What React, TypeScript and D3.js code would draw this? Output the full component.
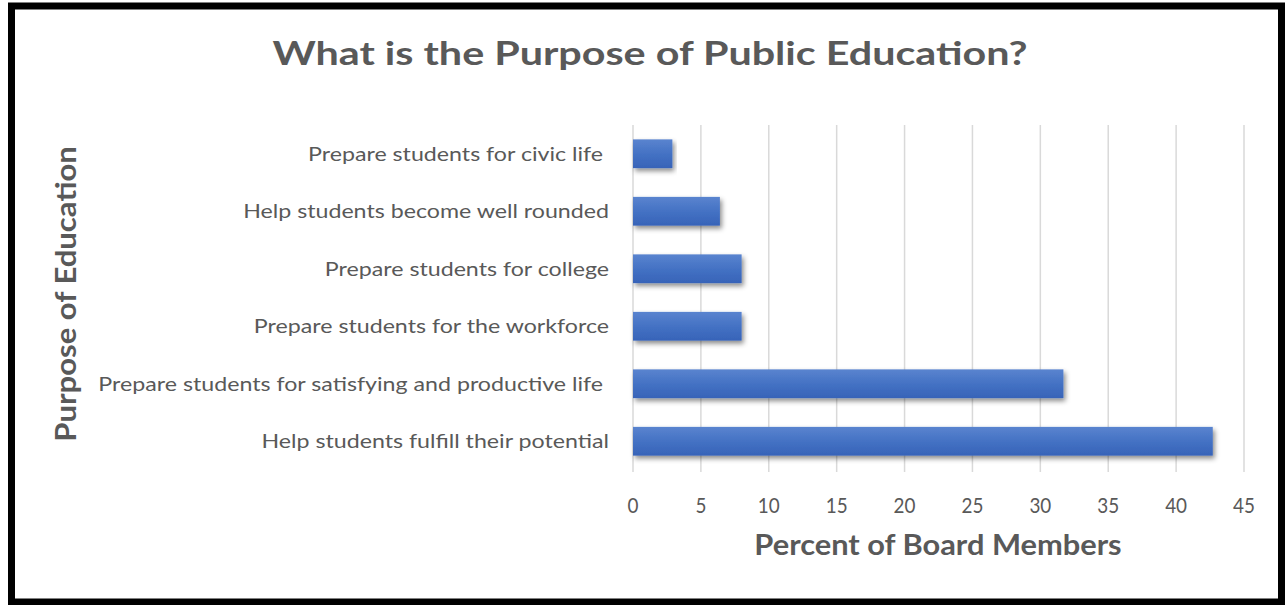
import React from "react";
import * as d3 from "d3";

const categories = [
  "Prepare students for civic life ",
  "Help students become well rounded",
  "Prepare students for college",
  "Prepare students for the workforce",
  "Prepare students for satisfying and productive life ",
  "Help students fulfill their potential",
];
const values = [2.9, 6.4, 8.0, 8.0, 31.7, 42.7];
const xTicks = [0, 5, 10, 15, 20, 25, 30, 35, 40, 45];
const title = "What is the Purpose of Public Education?";
const xTitle = "Percent of Board Members";
const yTitle = "Purpose of Education";

const font = "Lato, 'Open Sans', sans-serif";
const gray = "#595959";

function T(props: {
  x: number; y: number; sx: number; size: number; anchor: string; bold?: boolean; rotate?: number; fill?: string; children: any;
}) {
  const { x, y, sx, size, anchor, bold, rotate, fill, children } = props;
  return (
    <text
      transform={`translate(${x},${y})${rotate ? ` rotate(${rotate})` : ""} scale(${sx},1)`}
      textAnchor={anchor}
      fontFamily={font}
      fontWeight={bold ? "bold" : "normal"}
      fontSize={size}
      fill={fill || gray}
      style={{ whiteSpace: "pre" }}
    >
      {children}
    </text>
  );
}

export default function App() {
  const W = 1287, H = 605;
  const x = d3.scaleLinear().domain([0, 45]).range([633, 1244]);
  const y = d3.scaleBand().domain(categories).range([125, 470]).paddingInner(0.5).paddingOuter(0.25);
  return (
    <svg width={W} height={H} style={{ position: "absolute", left: 0, top: 0 }}>
      <defs>
        <filter id="sh" x="-10%" y="-30%" width="120%" height="180%">
          <feDropShadow dx="2" dy="3" stdDeviation="2.5" floodColor="#000" floodOpacity="0.45" />
        </filter>
        <linearGradient id="bg" x1="0" y1="0" x2="0" y2="1">
          <stop offset="0" stopColor="#5a84cf" />
          <stop offset="0.5" stopColor="#4472c4" />
          <stop offset="1" stopColor="#3763b8" />
        </linearGradient>
      </defs>
      <rect x={0} y={0} width={W} height={H} fill="#fff" />
      <rect x={11.5} y={6} width={1270} height={596} fill="none" stroke="#000" strokeWidth={7} />
      <T x={650} y={65} sx={1.29} size={32} anchor="middle" bold>
        {title}
      </T>
      {xTicks.map((t) => (
        <g key={t}>
          <line x1={x(t)} x2={x(t)} y1={125} y2={472} stroke="#d9d9d9" strokeWidth={1.5} />
          <T x={x(t)} y={513} sx={0.9} size={21} anchor="middle">
            {String(t)}
          </T>
        </g>
      ))}
      {categories.map((c, i) => (
        <g key={c}>
          <rect x={x(0)} y={y(c)!} width={x(values[i]) - x(0)} height={y.bandwidth()} fill="url(#bg)" filter="url(#sh)" />
          <T x={609} y={y(c)! + y.bandwidth() / 2 + 7} sx={1.16} size={20} anchor="end">
            {c}
          </T>
        </g>
      ))}
      <T x={938} y={555} sx={1.1} size={28} anchor="middle" bold>
        {xTitle}
      </T>
      <T x={76} y={294} sx={1.11} size={28} anchor="middle" bold rotate={-90}>
        {yTitle}
      </T>
    </svg>
  );
}
